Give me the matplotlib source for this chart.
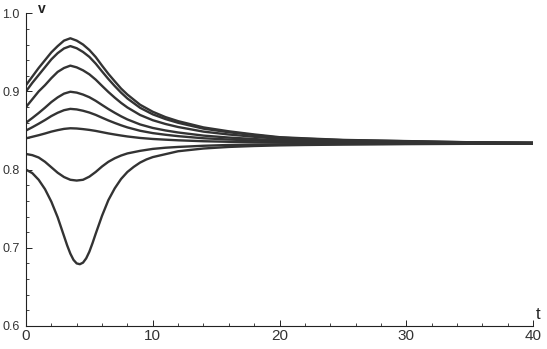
import numpy as np
import matplotlib.pyplot as plt
from matplotlib.ticker import MultipleLocator

# time grid shared by seven of the curves
t = [0, 0.5, 1, 1.5, 2, 2.5, 3, 3.5, 4, 4.5, 5, 5.5, 6, 6.5, 7, 7.5, 8, 9, 10,
     11, 12, 14, 16, 18, 20, 22, 25, 30, 35, 40]

v_091 = [0.908, 0.919, 0.930, 0.940, 0.950, 0.958, 0.965, 0.968, 0.965, 0.960,
         0.953, 0.944, 0.933, 0.9225, 0.913, 0.9037, 0.896, 0.883, 0.874,
         0.8672, 0.862, 0.854, 0.849, 0.845, 0.8415, 0.840, 0.838, 0.8365, 0.835, 0.8345]
v_090 = [0.900, 0.911, 0.921, 0.931, 0.941, 0.949, 0.955, 0.958, 0.9553, 0.9505,
         0.9442, 0.9356, 0.9256, 0.9159, 0.9069, 0.8985, 0.891, 0.8791, 0.8707,
         0.8647, 0.8599, 0.8524, 0.8478, 0.8441, 0.8409, 0.8395, 0.8377, 0.8363, 0.8349, 0.8344]
v_088 = [0.880, 0.890, 0.900, 0.908, 0.917, 0.925, 0.930, 0.933, 0.9308, 0.927,
         0.9219, 0.9151, 0.9071, 0.8993, 0.8921, 0.8854, 0.8795, 0.8699, 0.8632,
         0.8584, 0.8545, 0.8486, 0.8449, 0.842, 0.8394, 0.8383, 0.8368, 0.8357, 0.8346, 0.8342]
v_086 = [0.860, 0.866, 0.8724, 0.8792, 0.8864, 0.8924, 0.8972, 0.8996, 0.8985, 0.896,
         0.8926, 0.888, 0.8827, 0.8775, 0.8727, 0.8682, 0.8642, 0.8578, 0.8533,
         0.8501, 0.8475, 0.8435, 0.841, 0.8391, 0.8374, 0.8366, 0.8356, 0.8349, 0.8342, 0.8339]
v_085 = [0.850, 0.8542, 0.8587, 0.8634, 0.8685, 0.8727, 0.876, 0.8777, 0.877, 0.8753,
         0.873, 0.870, 0.8664, 0.8629, 0.8597, 0.8567, 0.854, 0.8497, 0.8467,
         0.8446, 0.8428, 0.8401, 0.8385, 0.8372, 0.836, 0.8355, 0.8349, 0.8344, 0.8339, 0.8337]
v_084 = [0.840, 0.842, 0.844, 0.8462, 0.8486, 0.8505, 0.8521, 0.8529, 0.8526, 0.8518,
         0.8508, 0.8495, 0.8479, 0.8463, 0.8449, 0.8436, 0.8424, 0.8405, 0.8392,
         0.8383, 0.8375, 0.8363, 0.8356, 0.835, 0.8345, 0.8343, 0.834, 0.8338, 0.8336, 0.8335]
v_082 = [0.820, 0.8185, 0.8155, 0.810, 0.803, 0.796, 0.7905, 0.787, 0.786, 0.787,
         0.791, 0.797, 0.804, 0.810, 0.8145, 0.818, 0.8207, 0.824, 0.8265,
         0.828, 0.829, 0.8305, 0.8315, 0.832, 0.8323, 0.8326, 0.8328, 0.833, 0.8332, 0.8333]

# the deepest curve needs a finer grid round its minimum
t_080 = [0, 0.5, 1, 1.5, 2, 2.5, 3, 3.25, 3.5, 3.75, 4, 4.25, 4.5, 4.75, 5, 5.25,
         5.5, 6, 6.5, 7, 7.5, 8, 8.5, 9, 9.5, 10, 12, 14, 16, 18, 20, 22, 25, 30, 35, 40]
v_080 = [0.800, 0.7955, 0.787, 0.775, 0.759, 0.739, 0.715, 0.703, 0.6925, 0.6845,
         0.680, 0.679, 0.681, 0.6865, 0.695, 0.706, 0.718, 0.741, 0.761, 0.776,
         0.788, 0.797, 0.8035, 0.809, 0.813, 0.816, 0.8235, 0.827, 0.829, 0.8302,
         0.831, 0.8315, 0.832, 0.8326, 0.833, 0.8332]

curves = [(t, v_091), (t, v_090), (t, v_088), (t, v_086), (t, v_085),
          (t, v_084), (t, v_082), (t_080, v_080)]

plt.rcParams['font.family'] = ['Liberation Sans', 'DejaVu Sans']

fig = plt.figure(figsize=(5.47, 3.49), dpi=100)
ax = fig.add_axes([0.0475, 0.066, 0.927, 0.896])

for tt, vv in curves:
    ax.plot(tt, vv, color='#333333', lw=1.7, solid_joinstyle='round')

ax.set_xlim(0, 40)
ax.set_ylim(0.6, 1.0)
ax.xaxis.set_major_locator(MultipleLocator(10))
ax.xaxis.set_minor_locator(MultipleLocator(2))
ax.yaxis.set_major_locator(MultipleLocator(0.1))
ax.yaxis.set_minor_locator(MultipleLocator(0.02))
ax.yaxis.set_major_formatter(plt.FuncFormatter(lambda y, p: '%.1f' % y))

for s in ['top', 'right']:
    ax.spines[s].set_visible(False)
for s in ['left', 'bottom']:
    ax.spines[s].set_color('#222222')
    ax.spines[s].set_linewidth(0.8)

ax.tick_params(which='major', direction='in', length=4, width=0.7,
               labelcolor='#333333', color='#222222')
ax.tick_params(which='minor', direction='in', length=2.5, width=0.6, color='#222222')
ax.tick_params(axis='y', labelsize=9, pad=4.5)
ax.tick_params(axis='x', labelsize=11, pad=2)

ax.text(0.0306, 1.015, 'v', transform=ax.transAxes, fontsize=10, fontweight='bold',
        ha='center', va='center', color='#222222')
ax.text(1.006, 0.012, 't', transform=ax.transAxes, fontsize=12,
        ha='left', va='bottom', color='#222222')

fig.savefig('out.png', dpi=100)
